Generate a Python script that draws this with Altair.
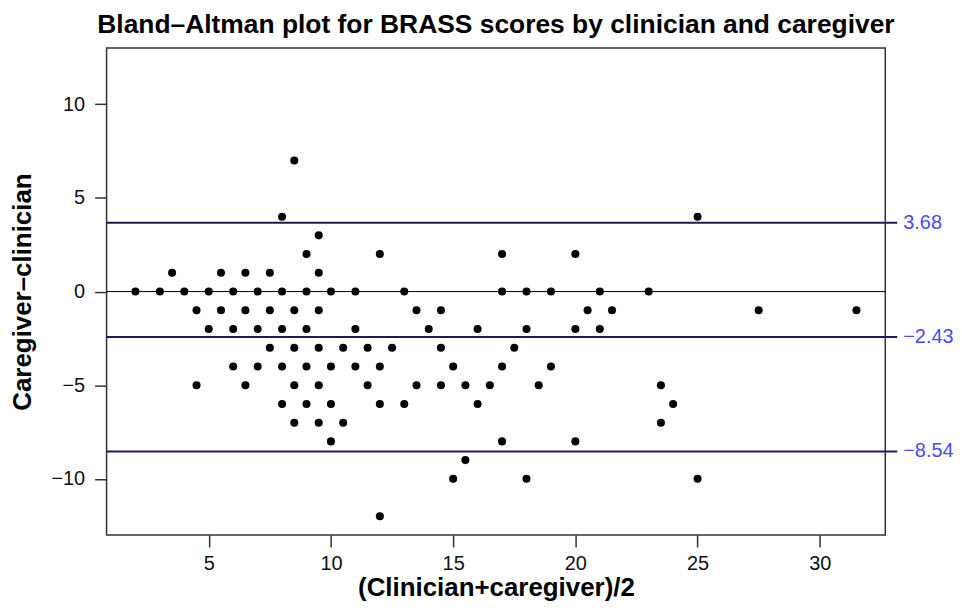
import altair as alt
import pandas as pd

# Data
x_vals = [
    8.5,
    8, 25,
    9.5,
    9, 12, 17, 20,
    3.5, 5.5, 6.5, 7.5, 9.5,
    2, 3, 4, 5, 6, 7, 8, 9, 10, 11, 13, 17, 18, 19, 21, 23,
    4.5, 5.5, 6.5, 7.5, 8.5, 9.5, 13.5, 14.5, 20.5, 21.5, 27.5, 31.5,
    5, 6, 7, 8, 9, 11, 14, 16, 18, 20, 21,
    7.5, 8.5, 9.5, 10.5, 11.5, 12.5, 14.5, 17.5,
    6, 7, 8, 9, 10, 11, 12, 15, 17, 19,
    4.5, 6.5, 8.5, 9.5, 11.5, 13.5, 14.5, 15.5, 16.5, 18.5, 23.5,
    8, 9, 10, 12, 13, 16, 24,
    8.5, 9.5, 10.5, 23.5,
    10, 17, 20,
    15.5,
    15, 18, 25,
    12,
]
y_vals = (
    [7] * 1 + [4] * 2 + [3] * 1 + [2] * 4 + [1] * 5 + [0] * 16 + [-1] * 12
    + [-2] * 11 + [-3] * 8 + [-4] * 10 + [-5] * 11 + [-6] * 7 + [-7] * 4
    + [-8] * 3 + [-9] * 1 + [-10] * 3 + [-12] * 1
)
limit_vals = [3.68, -2.43, -8.54]
zero_val = [0]
x_ticks = [5, 10, 15, 20, 25, 30]
y_ticks = [-10, -5, 0, 5, 10]

title_text = "Bland\u2013Altman plot for BRASS scores by clinician and caregiver"
x_title = "(Clinician+caregiver)/2"
y_title = "Caregiver\u2013clinician"

W, H = 782, 489
FONT = "Liberation Sans"

df = pd.DataFrame({"avg": x_vals, "diff": y_vals})
lim_df = pd.DataFrame({"diff": limit_vals})
zero_df = pd.DataFrame({"diff": zero_val})

xscale = alt.Scale(domain=[0.82, 32.68], nice=False, zero=False)
yscale = alt.Scale(domain=[-13, 13], nice=False, zero=False)

points = alt.Chart(df).mark_circle(size=65, color="black", opacity=1).encode(
    x=alt.X(
        "avg:Q",
        scale=xscale,
        axis=alt.Axis(
            values=x_ticks,
            title=x_title,
            titleX=W / 2,
            titleY=61,
            titleAlign="center",
            titleBaseline="alphabetic",
            labelPadding=7,
        ),
    ),
    y=alt.Y(
        "diff:Q",
        scale=yscale,
        axis=alt.Axis(
            values=y_ticks,
            title=y_title,
            titleX=-76,
            titleY=H / 2,
            titleAlign="center",
            titleBaseline="alphabetic",
            labelPadding=10,
        ),
    ),
)

zero_line = alt.Chart(zero_df).mark_rule(color="black", strokeWidth=1).encode(
    y=alt.Y("diff:Q", scale=yscale)
)

limit_lines = alt.Chart(lim_df).mark_rule(
    color="#1c1c55", strokeWidth=2, clip=False
).encode(
    y=alt.Y("diff:Q", scale=yscale),
    x=alt.value(0),
    x2=alt.value(W + 12),
)

limit_labels = alt.Chart(lim_df).mark_text(
    align="left", baseline="middle", color="#4b4bf0", fontSize=20, font=FONT
).encode(
    y=alt.Y("diff:Q", scale=yscale),
    x=alt.value(W + 18),
    text=alt.Text("diff:Q", format=".2f"),
)

chart = (
    alt.layer(zero_line, limit_lines, points, limit_labels)
    .properties(
        width=W,
        height=H,
        title=alt.TitleParams(
            text=title_text,
            fontSize=26.5,
            fontWeight="bold",
            font=FONT,
            color="black",
            anchor="middle",
            baseline="alphabetic",
            offset=12,
            dy=23,
        ),
        autosize=alt.AutoSizeParams(type="none"),
        padding={"left": 99, "top": 39, "right": 69, "bottom": 66},
    )
    .configure_view(stroke="#333333", strokeWidth=1.5)
    .configure_axis(
        grid=False,
        domain=False,
        tickSize=12,
        tickColor="#333333",
        tickWidth=1.5,
        labelFont=FONT,
        labelFontSize=20,
        labelColor="#111111",
        titleFont=FONT,
        titleFontSize=26,
        titleFontWeight="bold",
        titleColor="black",
    )
)

chart.save("out.html", embed_options={"renderer": "svg", "actions": False})
